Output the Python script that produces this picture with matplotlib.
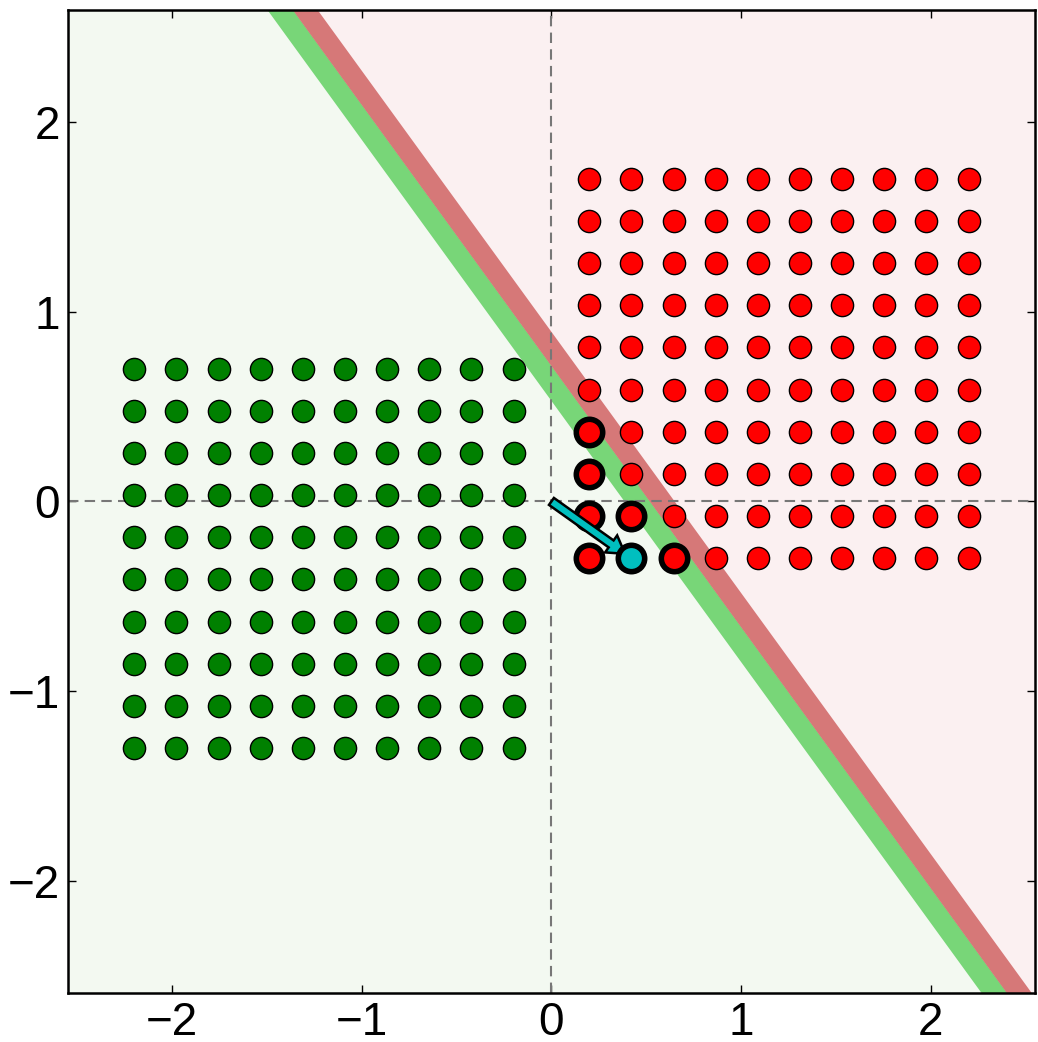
import matplotlib
matplotlib.use('Agg')
import matplotlib.pyplot as plt
import numpy as np

plt.rcParams['font.family'] = ['Liberation Sans', 'DejaVu Sans']

# grid of class points
green_x = [-2.2, -1.978, -1.756, -1.533, -1.311, -1.089, -0.867, -0.644, -0.422, -0.2]
green_y = [0.7, 0.478, 0.256, 0.033, -0.189, -0.411, -0.633, -0.856, -1.078, -1.3]
red_x = [0.2, 0.422, 0.644, 0.867, 1.089, 1.311, 1.533, 1.756, 1.978, 2.2]
red_y = [-0.3, -0.078, 0.144, 0.367, 0.589, 0.811, 1.033, 1.256, 1.478, 1.7]

# red points with thick black edge
hl_x = [0.2, 0.2, 0.2, 0.422, 0.2, 0.644]
hl_y = [0.367, 0.144, -0.078, -0.078, -0.3, -0.3]

# the chosen point and its arrow
pick_x, pick_y = 0.422, -0.3
arrow_frac = 0.92

# decision lines: y = slope * (x - x0)
line_slope = -1.375
green_x0 = 0.453
red_x0 = 0.584

xlim = (-2.55, 2.55)
ylim = (-2.59, 2.59)

fig = plt.figure(figsize=(10.38, 10.42), dpi=100)
ax = fig.add_axes([0.0655, 0.047, 0.9315, 0.9436])

# background regions split by the red line
xs = np.array([xlim[0] - 1, xlim[1] + 1])
yb = line_slope * (xs - red_x0)
ax.fill_between(xs, yb, ylim[0] - 5, color='#f3f9f1', zorder=0, lw=0)
ax.fill_between(xs, yb, ylim[1] + 5, color='#fbf0f1', zorder=0, lw=0)

ax.plot(xs, line_slope * (xs - green_x0), color='#78d678', lw=15, zorder=1,
        solid_capstyle='butt')
ax.plot(xs, line_slope * (xs - red_x0), color='#d67878', lw=14.5, zorder=1,
        solid_capstyle='butt')

ax.axhline(0, color='#777777', lw=1.5, dashes=(5, 3), zorder=2)
ax.axvline(0, color='#777777', lw=1.5, dashes=(5, 3), zorder=2)

gx, gy = np.meshgrid(green_x, green_y)
rx, ry = np.meshgrid(red_x, red_y)
ax.plot(gx.ravel(), gy.ravel(), 'o', color='green', mec='k', mew=1, ms=16,
        zorder=3, ls='none')
ax.plot(rx.ravel(), ry.ravel(), 'o', color='red', mec='k', mew=1, ms=16,
        zorder=3, ls='none')
ax.plot(hl_x, hl_y, 'o', color='red', mec='k', mew=4, ms=19, zorder=4,
        ls='none')

ax.arrow(0, 0, pick_x * arrow_frac, pick_y * arrow_frac, width=0.045,
         head_width=0.11, head_length=0.09, length_includes_head=True,
         fc=(0, 0.75, 0.75), ec='k', lw=1.8, zorder=5)
ax.plot([pick_x], [pick_y], 'o', color=(0, 0.75, 0.75), mec='k', mew=4, ms=19,
        zorder=6)

ax.set_xlim(xlim)
ax.set_ylim(ylim)
ax.set_xticks([-2, -1, 0, 1, 2])
ax.set_yticks([-2, -1, 0, 1, 2])
ax.tick_params(direction='in', length=6, width=1, labelsize=33,
               top=True, right=True, pad=6)
for s in ax.spines.values():
    s.set_linewidth(1.8)

fig.savefig('out.png', dpi=100)
